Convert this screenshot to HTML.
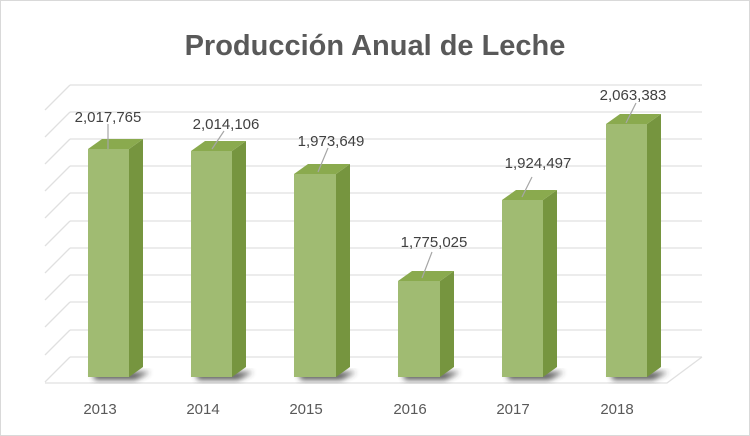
<!DOCTYPE html>
<html><head><meta charset="utf-8"><style>
body{margin:0;background:#fff}
svg{display:block;font-family:"Liberation Sans",sans-serif}
</style></head><body>
<svg width="750" height="436" viewBox="0 0 750 436" xmlns="http://www.w3.org/2000/svg">
<defs><filter id="b" x="-50%" y="-50%" width="200%" height="200%"><feGaussianBlur stdDeviation="3"/></filter></defs>
<rect x="0.5" y="0.5" width="749" height="435" fill="#fff" stroke="#d9d9d9"/>
<text x="375" y="55" text-anchor="middle" font-size="29" font-weight="bold" fill="#595959">Producción Anual de Leche</text>
<g stroke="#e0e0e0" stroke-width="1.3" fill="none">
<path d="M70 85H702M70 112H702M70 139H702M70 166H702M70 193H702M70 221H702M70 248H702M70 275H702M70 302H702M70 330H702M70 357H702"/>
<path d="M70 85L45 110M70 112L45 137M70 139L45 164M70 166L45 191M70 193L45 218M70 221L45 246M70 248L45 273M70 275L45 300M70 302L45 327M70 330L45 355M70 357L45 382"/>
<path d="M45 383H667L702 357"/>
</g>
<g id="bars">
<g filter="url(#b)" fill="#333" opacity="0.8">
<path d="M92 372L150 372L135 380L95 380Z"/>
<path d="M195 372L253 372L238 380L198 380Z"/>
<path d="M298 372L356 372L341 380L301 380Z"/>
<path d="M402 372L460 372L445 380L405 380Z"/>
<path d="M506 372L564 372L549 380L509 380Z"/>
<path d="M610 372L668 372L653 380L613 380Z"/>
</g>
</g>
<g stroke="none">
<!-- bar: x, top -->
<g><rect x="88" y="149" width="41" height="228" fill="#a0bb72"/><path d="M129 149L143 139L143 367L129 377Z" fill="#76953f"/><path d="M88 149L102 139L143 139L129 149Z" fill="#8aaa4e"/></g>
<g><rect x="191" y="151" width="41" height="226" fill="#a0bb72"/><path d="M232 151L246 141L246 367L232 377Z" fill="#76953f"/><path d="M191 151L205 141L246 141L232 151Z" fill="#8aaa4e"/></g>
<g><rect x="294" y="174" width="42" height="203" fill="#a0bb72"/><path d="M336 174L350 164L350 367L336 377Z" fill="#76953f"/><path d="M294 174L308 164L350 164L336 174Z" fill="#8aaa4e"/></g>
<g><rect x="398" y="281" width="42" height="96" fill="#a0bb72"/><path d="M440 281L454 271L454 367L440 377Z" fill="#76953f"/><path d="M398 281L412 271L454 271L440 281Z" fill="#8aaa4e"/></g>
<g><rect x="502" y="200" width="41" height="177" fill="#a0bb72"/><path d="M543 200L557 190L557 367L543 377Z" fill="#76953f"/><path d="M502 200L516 190L557 190L543 200Z" fill="#8aaa4e"/></g>
<g><rect x="606" y="124" width="41" height="253" fill="#a0bb72"/><path d="M647 124L661 114L661 367L647 377Z" fill="#76953f"/><path d="M606 124L620 114L661 114L647 124Z" fill="#8aaa4e"/></g>
</g>
<g stroke="#a6a6a6" stroke-width="1.2">
<path d="M108 124V149M224 131L212 149M328 148L318 172M432 252L422 278M532 177L522 197M636 103L626 123"/>
</g>
<g font-size="15" fill="#404040" text-anchor="middle">
<text x="108" y="122">2,017,765</text>
<text x="226" y="129">2,014,106</text>
<text x="331" y="146">1,973,649</text>
<text x="434" y="247">1,775,025</text>
<text x="538" y="168">1,924,497</text>
<text x="633" y="100">2,063,383</text>
</g>
<g font-size="15" fill="#595959" text-anchor="middle">
<text x="100" y="414">2013</text><text x="203" y="414">2014</text><text x="306" y="414">2015</text><text x="410" y="414">2016</text><text x="513" y="414">2017</text><text x="617" y="414">2018</text>
</g>
</svg>
</body></html>
